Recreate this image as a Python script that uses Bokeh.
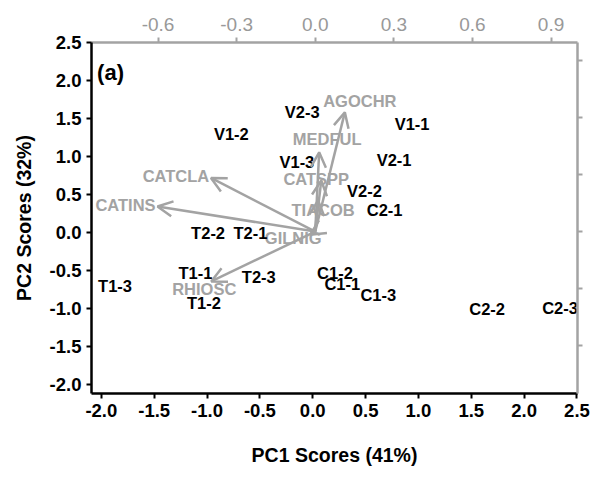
from bokeh.plotting import figure
from bokeh.models import (Range1d, LinearAxis, FixedTicker, Arrow, OpenHead,
                          ColumnDataSource, Label)
from bokeh.core.properties import value
from bokeh.embed import file_html
from bokeh.resources import INLINE

# ---- data ----
samples = ["V2-3", "V1-2", "V1-3", "V1-1", "V2-1", "V2-2", "C2-1", "C1-2", "C1-1",
           "C1-3", "C2-2", "C2-3", "T2-2", "T2-1", "T1-1", "T2-3", "T1-2", "T1-3"]
pc1 = [-0.10, -0.77, -0.15, 0.94, 0.77, 0.49, 0.68, 0.21, 0.28,
       0.62, 1.65, 2.34, -0.99, -0.59, -1.11, -0.51, -1.03, -1.87]
pc2 = [1.58, 1.30, 0.93, 1.43, 0.96, 0.54, 0.30, -0.53, -0.68,
       -0.82, -1.00, -0.99, 0.00, -0.01, -0.53, -0.59, -0.93, -0.70]

species = ["AGOCHR", "MEDFUL", "CATSPP", "TIACOB", "GILNIG", "CATCLA", "CATINS", "RHIOSC"]
load1 = [0.113, 0.015, 0.023, 0.011, -0.019, -0.398, -0.602, -0.397]
load2 = [0.418, 0.278, 0.179, 0.109, -0.011, 0.188, 0.088, -0.175]

x_ticks = [-2.0, -1.5, -1.0, -0.5, 0.0, 0.5, 1.0, 1.5, 2.0, 2.5]
x_tick_labels = ["-2.0", "-1.5", "-1.0", "-0.5", "0.0", "0.5", "1.0", "1.5", "2.0", "2.5"]
y_ticks = [-2.0, -1.5, -1.0, -0.5, 0.0, 0.5, 1.0, 1.5, 2.0, 2.5]
y_tick_labels = ["-2.0", "-1.5", "-1.0", "-0.5", "0.0", "0.5", "1.0", "1.5", "2.0", "2.5"]
top_ticks = [-0.6, -0.3, 0.0, 0.3, 0.6, 0.9]
top_tick_labels = ["-0.6", "-0.3", "0.0", "0.3", "0.6", "0.9"]
right_ticks = [-0.4, -0.2, 0.0, 0.2, 0.4, 0.6]

# ---- style ----
FONT = "Liberation Sans"
GRAY = "#a3a3a3"
label_dx = [15, 8, -5, 5, -17, -35, -32, -7]   # pixel offsets of loading labels from arrow tips
label_dy = [-11, -13, -2, 10, 3, -2, -1, 8]

p = figure(width=606, height=482, output_backend="svg", toolbar_location=None,
           x_range=Range1d(-2.093, 2.505), y_range=Range1d(-2.118, 2.5),
           min_border_left=91, min_border_right=29, min_border_top=42, min_border_bottom=89)
p.extra_x_ranges = {"lx": Range1d(-0.854, 1.001)}
p.extra_y_ranges = {"ly": Range1d(-0.568, 0.663)}
p.grid.visible = False
p.outline_line_color = None
p.background_fill_color = "white"
p.border_fill_color = "white"

def style_axis(ax, color, label_color, bold=True, size="18.5px"):
    ax.axis_line_color = color
    ax.axis_line_width = 2.5
    ax.major_tick_line_color = color
    ax.major_tick_line_width = 2
    ax.major_tick_out = 5
    ax.major_tick_in = 0
    ax.minor_tick_line_color = None
    ax.major_label_text_font = FONT
    ax.major_label_text_font_size = size
    ax.major_label_text_font_style = "bold" if bold else "normal"
    ax.major_label_text_color = label_color
    ax.axis_label_text_font = FONT
    ax.axis_label_text_font_size = "19.5px"
    ax.axis_label_text_font_style = "bold"
    ax.axis_label_text_color = "black"

xa = p.xaxis[0]
xa.ticker = FixedTicker(ticks=x_ticks)
xa.major_label_overrides = dict(zip(x_ticks, x_tick_labels))
xa.axis_label = "PC1 Scores (41%)"
xa.axis_label_standoff = 24
style_axis(xa, "black", "black")

ya = p.yaxis[0]
ya.ticker = FixedTicker(ticks=y_ticks)
ya.major_label_overrides = dict(zip(y_ticks, y_tick_labels))
ya.axis_label = "PC2 Scores (32%)"
ya.axis_label_standoff = 12
style_axis(ya, "black", "black")

top = LinearAxis(x_range_name="lx", ticker=FixedTicker(ticks=top_ticks))
top.major_label_overrides = dict(zip(top_ticks, top_tick_labels))
style_axis(top, GRAY, "#999999", bold=False, size="19px")
top.major_label_standoff = 7
p.add_layout(top, "above")

right = LinearAxis(y_range_name="ly", ticker=FixedTicker(ticks=right_ticks))
style_axis(right, GRAY, GRAY)
right.major_label_text_alpha = 0
right.major_label_text_font_size = "1px"
p.add_layout(right, "right")

# loading arrows
src_l = ColumnDataSource(dict(x0=[0.0] * len(species), y0=[0.0] * len(species),
                              x1=load1, y1=load2, name=species, dx=label_dx, dy=label_dy))
arrows = Arrow(source=src_l, x_start="x0", y_start="y0", x_end="x1", y_end="y1",
               x_range_name="lx", y_range_name="ly",
               line_color=GRAY, line_width=2.5,
               end=OpenHead(size=15, line_color=GRAY, line_width=2.5))
p.add_layout(arrows)

p.text(x="x1", y="y1", text="name", source=src_l, x_range_name="lx", y_range_name="ly",
       x_offset="dx", y_offset="dy",
       text_font=value(FONT), text_font_size="16.5px", text_font_style="bold",
       text_color=GRAY, text_align="center", text_baseline="middle")

# sample scores
src_s = ColumnDataSource(dict(x=pc1, y=pc2, name=samples))
p.text(x="x", y="y", text="name", source=src_s,
       text_font=value(FONT), text_font_size="16.5px", text_font_style="bold",
       text_color="black", text_align="center", text_baseline="middle")

p.add_layout(Label(x=-2.04, y=2.1, text="(a)", text_font=FONT, text_font_size="22px",
                   text_font_style="bold", text_color="black", text_baseline="middle"))

open("out.html", "w").write(file_html(p, INLINE))
